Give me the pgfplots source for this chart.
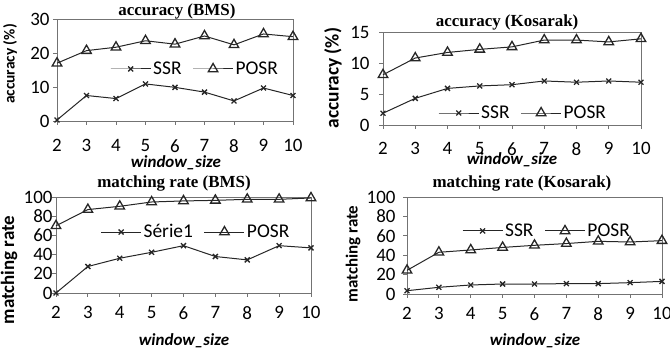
\documentclass[border=0pt]{standalone}
\usepackage{pgfplots}
\pgfplotsset{compat=1.18}
\usepackage{fontspec}
\setmainfont{Carlito}
\newfontfamily\titlefont{Liberation Serif}
\begin{document}
\begin{tikzpicture}
\useasboundingbox (0,0) rectangle (670bp,356bp);
\pgfplotsset{
  every axis/.append style={
    scale only axis, enlargelimits=false, clip=false,
    axis line style={black!55, line width=0.8bp},
    xmin=2, xmax=10, xtick={2,...,10},
    xtick pos=bottom, ytick pos=left,
    tick style={black!55, line width=0.8bp}, tick align=outside, major tick length=4bp,
    /pgf/number format/assume math mode=true,
    tick label style={font=\fontsize{19}{21}\selectfont},
    every axis title shift=0pt,
    title style={font=\titlefont\bfseries\fontsize{17}{19}\selectfont, anchor=base},
    xlabel style={font=\bfseries\itshape\fontsize{17}{19}\selectfont, anchor=base},
    legend style={draw=none, fill=none, anchor=center, legend columns=2,
      font=\fontsize{19.5}{21}\selectfont,
      /tikz/every even column/.append style={column sep=9bp}},
    legend image code/.code={\draw[mark repeat=2,mark phase=2] plot coordinates {(0bp,0bp) (20bp,0bp) (40bp,0bp)};},
  },
  ssr/.style={black!85, line width=1bp, mark=x, mark size=3.5bp, mark options={line width=1.3bp}},
  posr/.style={black!85, line width=1bp, mark=triangle, mark size=5.5bp, mark options={fill=white, line width=1.3bp}},
}
% Panel 1
\begin{axis}[at={(57bp,235bp)}, anchor=south west, width=236bp, height=102bp,
  ymin=0, ymax=30, ytick={0,10,20,30},
  title={accuracy (BMS)}, title style={at={(0.508,1.039)}},
  xlabel={window\_size}, xlabel style={at={(0.504,-0.46)}},
  xticklabel style={yshift=-11bp},
  legend style={at={(0.585,0.51)}}]
\addplot[ssr] coordinates {(2,0.3)(3,7.5)(4,6.6)(5,10.9)(6,9.9)(7,8.5)(8,5.9)(9,9.7)(10,7.5)};
\addplot[posr] coordinates {(2,17.0)(3,20.7)(4,21.7)(5,23.6)(6,22.6)(7,25.0)(8,22.4)(9,25.6)(10,24.8)};
\legend{SSR,POSR}
\end{axis}
% Panel 2
\begin{axis}[at={(383bp,231bp)}, anchor=south west, width=258bp, height=93bp,
  ymin=0, ymax=15, ytick={0,5,10,15},
  title={accuracy (Kosarak)}, title style={at={(0.481,1.054)}},
  xlabel={window\_size}, xlabel style={at={(0.5,-0.43)}},
  xticklabel style={yshift=-10bp}, yticklabel style={xshift=-6bp},
  legend style={at={(0.543,0.129)}}]
\addplot[ssr] coordinates {(2,1.9)(3,4.3)(4,5.9)(5,6.3)(6,6.5)(7,7.1)(8,6.9)(9,7.1)(10,6.9)};
\addplot[posr] coordinates {(2,8.1)(3,10.8)(4,11.7)(5,12.2)(6,12.6)(7,13.7)(8,13.7)(9,13.4)(10,13.9)};
\legend{SSR,POSR}
\end{axis}
% Panel 3
\begin{axis}[at={(56bp,63bp)}, anchor=south west, width=255bp, height=96bp,
  ymin=0, ymax=100, ytick={0,20,...,100},
  title={matching rate (BMS)}, title style={at={(0.463,1.094)}},
  xlabel={window\_size}, xlabel style={at={(0.502,-0.552)}},
  xticklabel style={yshift=-6bp}, yticklabel style={xshift=4bp},
  legend style={at={(0.549,0.635)}}]
\addplot[ssr] coordinates {(2,0)(3,27.6)(4,36.2)(5,42.4)(6,49.3)(7,38)(8,34.5)(9,49.3)(10,47)};
\addplot[posr] coordinates {(2,70)(3,86.9)(4,90.3)(5,94.8)(6,95.9)(7,96.5)(8,97.6)(9,97.6)(10,99)};
\legend{Série1,POSR}
\end{axis}
% Panel 4
\begin{axis}[at={(407bp,62bp)}, anchor=south west, width=255bp, height=97bp,
  ymin=0, ymax=100, ytick={0,20,...,100},
  title={matching rate (Kosarak)}, title style={at={(0.451,1.093)}},
  xlabel={window\_size}, xlabel style={at={(0.502,-0.536)}},
  xticklabel style={yshift=-6bp}, yticklabel style={xshift=-4bp},
  legend style={at={(0.549,0.65)}}]
\addplot[ssr] coordinates {(2,3.4)(3,6.9)(4,9.3)(5,10.3)(6,10.3)(7,10.7)(8,10.7)(9,11.7)(10,13)};
\addplot[posr] coordinates {(2,24.4)(3,43)(4,45.4)(5,48)(6,50.2)(7,52)(8,54.3)(9,53.6)(10,55)};
\legend{SSR,POSR}
\end{axis}
% y-axis labels
\node[rotate=90, font=\bfseries\fontsize{15.5}{17}\selectfont] at (10bp,292bp) {accuracy (\%)};
\node[rotate=90, font=\bfseries\fontsize{19.5}{21}\selectfont] at (333bp,278bp) {accuracy (\%)};
\node[rotate=90, font=\bfseries\fontsize{19}{21}\selectfont] at (9bp,86bp) {matching rate};
\node[rotate=90, font=\bfseries\fontsize{17}{19}\selectfont] at (353bp,102bp) {matching rate};
\end{tikzpicture}
\end{document}
